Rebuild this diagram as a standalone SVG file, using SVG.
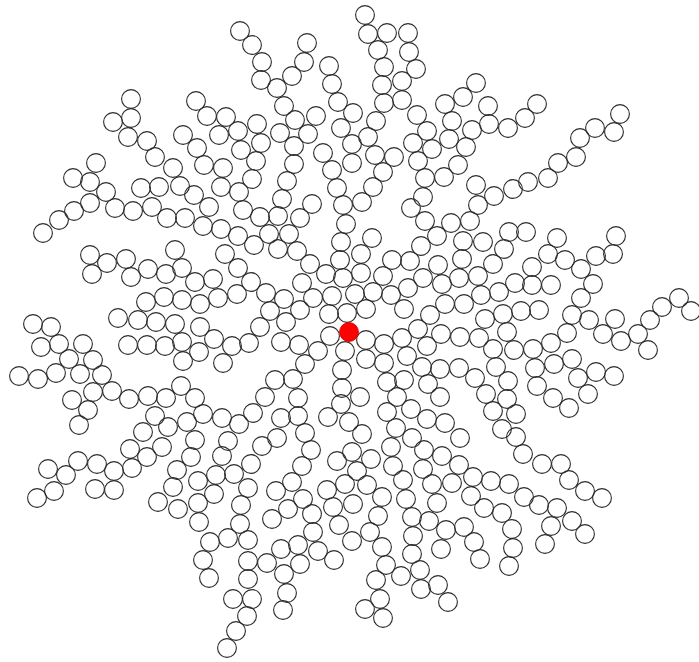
<svg xmlns="http://www.w3.org/2000/svg" xmlns:xlink="http://www.w3.org/1999/xlink" width="699" height="662" viewBox="0 0 699 662">
<style>.c{fill:none;stroke:#2a2a2a;stroke-width:1.1}.seed{fill:#ff0000;stroke:#e00000;stroke-width:1}</style>
<defs><circle id="p" class="c" cx="0" cy="0" r="9.4"/></defs>
<rect width="699" height="662" fill="#fff"/>
<g id="particles">
<use href="#p" x="131" y="99"/><use href="#p" x="113" y="122"/><use href="#p" x="131" y="118"/><use href="#p" x="128" y="137"/><use href="#p" x="147" y="141"/><use href="#p" x="155" y="157"/><use href="#p" x="173" y="168"/><use href="#p" x="96" y="163"/><use href="#p" x="73" y="178"/><use href="#p" x="90" y="182"/><use href="#p" x="106" y="192"/><use href="#p" x="90" y="203"/><use href="#p" x="74" y="211"/><use href="#p" x="59" y="220"/><use href="#p" x="141" y="188"/><use href="#p" x="159" y="187"/><use href="#p" x="115" y="208"/><use href="#p" x="133" y="211"/><use href="#p" x="152" y="207"/><use href="#p" x="167" y="218"/>
<use href="#p" x="240" y="31"/><use href="#p" x="252" y="45"/><use href="#p" x="262" y="62"/><use href="#p" x="261" y="80"/><use href="#p" x="277" y="88"/><use href="#p" x="292" y="76"/><use href="#p" x="304" y="62"/><use href="#p" x="307" y="43"/><use href="#p" x="329" y="66"/><use href="#p" x="332" y="84"/><use href="#p" x="338" y="102"/><use href="#p" x="341" y="128"/><use href="#p" x="284" y="106"/><use href="#p" x="295" y="120"/><use href="#p" x="316" y="116"/><use href="#p" x="280" y="133"/><use href="#p" x="308" y="134"/><use href="#p" x="294" y="146"/><use href="#p" x="294" y="164"/><use href="#p" x="287" y="181"/><use href="#p" x="282" y="199"/><use href="#p" x="278" y="216"/><use href="#p" x="312" y="204"/><use href="#p" x="300" y="218"/><use href="#p" x="323" y="153"/><use href="#p" x="332" y="170"/><use href="#p" x="337" y="188"/><use href="#p" x="343" y="205"/><use href="#p" x="196" y="101"/><use href="#p" x="207" y="116"/><use href="#p" x="226" y="117"/><use href="#p" x="219" y="135"/><use href="#p" x="238" y="131"/><use href="#p" x="257" y="124"/><use href="#p" x="261" y="143"/><use href="#p" x="241" y="150"/><use href="#p" x="256" y="161"/><use href="#p" x="252" y="179"/><use href="#p" x="239" y="192"/><use href="#p" x="243" y="210"/><use href="#p" x="260" y="217"/><use href="#p" x="183" y="135"/><use href="#p" x="197" y="148"/><use href="#p" x="204" y="165"/><use href="#p" x="223" y="168"/><use href="#p" x="221" y="187"/><use href="#p" x="180" y="186"/><use href="#p" x="194" y="195"/><use href="#p" x="209" y="207"/><use href="#p" x="185" y="218"/><use href="#p" x="221" y="229"/>
<use href="#p" x="365" y="15"/><use href="#p" x="368" y="34"/><use href="#p" x="387" y="33"/><use href="#p" x="408" y="33"/><use href="#p" x="378" y="50"/><use href="#p" x="409" y="52"/><use href="#p" x="384" y="67"/><use href="#p" x="416" y="69"/><use href="#p" x="382" y="85"/><use href="#p" x="402" y="81"/><use href="#p" x="384" y="103"/><use href="#p" x="402" y="100"/><use href="#p" x="376" y="121"/><use href="#p" x="368" y="137"/><use href="#p" x="353" y="113"/><use href="#p" x="352" y="144"/><use href="#p" x="352" y="163"/><use href="#p" x="375" y="155"/><use href="#p" x="394" y="157"/><use href="#p" x="383" y="172"/><use href="#p" x="373" y="187"/><use href="#p" x="362" y="202"/><use href="#p" x="417" y="115"/><use href="#p" x="427" y="131"/><use href="#p" x="413" y="143"/><use href="#p" x="432" y="149"/><use href="#p" x="418" y="161"/><use href="#p" x="425" y="178"/><use href="#p" x="423" y="197"/><use href="#p" x="411" y="208"/><use href="#p" x="425" y="221"/><use href="#p" x="444" y="177"/><use href="#p" x="458" y="165"/><use href="#p" x="466" y="147"/><use href="#p" x="449" y="139"/><use href="#p" x="452" y="121"/><use href="#p" x="445" y="104"/><use href="#p" x="463" y="97"/><use href="#p" x="476" y="83"/><use href="#p" x="472" y="130"/><use href="#p" x="489" y="124"/><use href="#p" x="488" y="106"/><use href="#p" x="508" y="128"/><use href="#p" x="525" y="118"/><use href="#p" x="476" y="185"/><use href="#p" x="494" y="196"/><use href="#p" x="478" y="205"/><use href="#p" x="513" y="189"/><use href="#p" x="528" y="182"/><use href="#p" x="451" y="223"/><use href="#p" x="470" y="221"/>
<use href="#p" x="537" y="104"/><use href="#p" x="620" y="114"/><use href="#p" x="614" y="132"/><use href="#p" x="595" y="128"/><use href="#p" x="580" y="138"/><use href="#p" x="576" y="157"/><use href="#p" x="558" y="163"/><use href="#p" x="548" y="178"/>
<use href="#p" x="43" y="233"/><use href="#p" x="90" y="255"/><use href="#p" x="107" y="263"/><use href="#p" x="126" y="259"/><use href="#p" x="92" y="274"/><use href="#p" x="131" y="277"/><use href="#p" x="148" y="269"/><use href="#p" x="166" y="274"/><use href="#p" x="175" y="250"/><use href="#p" x="146" y="302"/><use href="#p" x="164" y="297"/><use href="#p" x="118" y="318"/><use href="#p" x="138" y="320"/><use href="#p" x="156" y="322"/><use href="#p" x="175" y="324"/><use href="#p" x="128" y="345"/><use href="#p" x="147" y="345"/><use href="#p" x="165" y="346"/><use href="#p" x="33" y="324"/><use href="#p" x="51" y="327"/><use href="#p" x="41" y="347"/><use href="#p" x="59" y="344"/><use href="#p" x="83" y="344"/><use href="#p" x="69" y="359"/><use href="#p" x="93" y="360"/><use href="#p" x="19" y="376"/><use href="#p" x="38" y="379"/><use href="#p" x="56" y="373"/><use href="#p" x="80" y="374"/><use href="#p" x="102" y="375"/><use href="#p" x="93" y="392"/><use href="#p" x="112" y="391"/><use href="#p" x="129" y="399"/><use href="#p" x="148" y="396"/><use href="#p" x="166" y="398"/><use href="#p" x="72" y="400"/><use href="#p" x="88" y="410"/><use href="#p" x="79" y="425"/><use href="#p" x="155" y="416"/><use href="#p" x="143" y="432"/><use href="#p" x="168" y="427"/>
<use href="#p" x="203" y="226"/><use href="#p" x="238" y="236"/><use href="#p" x="254" y="245"/><use href="#p" x="269" y="234"/><use href="#p" x="289" y="234"/><use href="#p" x="278" y="249"/><use href="#p" x="297" y="251"/><use href="#p" x="310" y="264"/><use href="#p" x="326" y="274"/><use href="#p" x="340" y="260"/><use href="#p" x="341" y="242"/><use href="#p" x="346" y="224"/><use href="#p" x="225" y="254"/><use href="#p" x="238" y="268"/><use href="#p" x="251" y="282"/><use href="#p" x="266" y="293"/><use href="#p" x="284" y="299"/><use href="#p" x="302" y="283"/><use href="#p" x="313" y="298"/><use href="#p" x="332" y="296"/><use href="#p" x="343" y="278"/><use href="#p" x="300" y="310"/><use href="#p" x="270" y="311"/><use href="#p" x="286" y="322"/><use href="#p" x="260" y="327"/><use href="#p" x="329" y="314"/><use href="#p" x="330" y="336"/><use href="#p" x="182" y="268"/><use href="#p" x="195" y="282"/><use href="#p" x="213" y="279"/><use href="#p" x="237" y="294"/><use href="#p" x="182" y="300"/><use href="#p" x="200" y="304"/><use href="#p" x="218" y="298"/><use href="#p" x="200" y="327"/><use href="#p" x="214" y="339"/><use href="#p" x="232" y="346"/><use href="#p" x="249" y="343"/><use href="#p" x="182" y="342"/><use href="#p" x="199" y="352"/><use href="#p" x="183" y="361"/><use href="#p" x="223" y="363"/><use href="#p" x="281" y="342"/><use href="#p" x="299" y="345"/><use href="#p" x="318" y="351"/><use href="#p" x="305" y="364"/><use href="#p" x="293" y="379"/><use href="#p" x="275" y="380"/><use href="#p" x="265" y="397"/><use href="#p" x="253" y="413"/><use href="#p" x="239" y="424"/><use href="#p" x="222" y="418"/><use href="#p" x="203" y="414"/><use href="#p" x="187" y="422"/><use href="#p" x="195" y="398"/><use href="#p" x="181" y="386"/><use href="#p" x="195" y="440"/><use href="#p" x="228" y="441"/><use href="#p" x="281" y="418"/><use href="#p" x="298" y="398"/><use href="#p" x="277" y="438"/><use href="#p" x="305" y="433"/><use href="#p" x="298" y="416"/><use href="#p" x="328" y="417"/><use href="#p" x="341" y="404"/><use href="#p" x="342" y="388"/><use href="#p" x="342" y="370"/><use href="#p" x="345" y="351"/><use href="#p" x="349" y="422"/>
<use href="#p" x="372" y="238"/><use href="#p" x="361" y="254"/><use href="#p" x="361" y="273"/><use href="#p" x="355" y="294"/><use href="#p" x="366" y="309"/><use href="#p" x="347" y="313"/><use href="#p" x="392" y="260"/><use href="#p" x="410" y="261"/><use href="#p" x="383" y="276"/><use href="#p" x="373" y="292"/><use href="#p" x="391" y="295"/><use href="#p" x="408" y="288"/><use href="#p" x="404" y="309"/><use href="#p" x="423" y="278"/><use href="#p" x="421" y="246"/><use href="#p" x="437" y="236"/><use href="#p" x="463" y="241"/><use href="#p" x="483" y="242"/><use href="#p" x="438" y="265"/><use href="#p" x="442" y="284"/><use href="#p" x="462" y="259"/><use href="#p" x="459" y="278"/><use href="#p" x="478" y="276"/><use href="#p" x="493" y="264"/><use href="#p" x="504" y="249"/><use href="#p" x="509" y="232"/><use href="#p" x="526" y="232"/><use href="#p" x="481" y="295"/><use href="#p" x="499" y="292"/><use href="#p" x="515" y="283"/><use href="#p" x="445" y="304"/><use href="#p" x="464" y="304"/><use href="#p" x="430" y="315"/><use href="#p" x="418" y="329"/><use href="#p" x="485" y="319"/><use href="#p" x="503" y="314"/><use href="#p" x="521" y="311"/><use href="#p" x="507" y="332"/><use href="#p" x="514" y="350"/><use href="#p" x="441" y="334"/><use href="#p" x="460" y="337"/><use href="#p" x="479" y="338"/><use href="#p" x="493" y="349"/><use href="#p" x="366" y="340"/><use href="#p" x="384" y="344"/><use href="#p" x="402" y="338"/><use href="#p" x="427" y="346"/><use href="#p" x="366" y="359"/><use href="#p" x="384" y="363"/><use href="#p" x="407" y="356"/><use href="#p" x="422" y="367"/><use href="#p" x="440" y="369"/><use href="#p" x="459" y="368"/><use href="#p" x="496" y="367"/><use href="#p" x="475" y="378"/><use href="#p" x="508" y="381"/><use href="#p" x="387" y="382"/><use href="#p" x="404" y="380"/><use href="#p" x="428" y="384"/><use href="#p" x="360" y="397"/><use href="#p" x="397" y="397"/><use href="#p" x="440" y="397"/><use href="#p" x="486" y="394"/><use href="#p" x="507" y="399"/><use href="#p" x="387" y="412"/><use href="#p" x="411" y="409"/><use href="#p" x="427" y="419"/><use href="#p" x="445" y="423"/><use href="#p" x="396" y="428"/><use href="#p" x="493" y="411"/><use href="#p" x="516" y="414"/><use href="#p" x="502" y="429"/><use href="#p" x="362" y="434"/><use href="#p" x="412" y="438"/><use href="#p" x="460" y="438"/><use href="#p" x="516" y="437"/>
<use href="#p" x="557" y="238"/><use href="#p" x="548" y="254"/><use href="#p" x="565" y="260"/><use href="#p" x="581" y="269"/><use href="#p" x="593" y="284"/><use href="#p" x="581" y="298"/><use href="#p" x="596" y="256"/><use href="#p" x="613" y="254"/><use href="#p" x="616" y="236"/><use href="#p" x="532" y="267"/><use href="#p" x="532" y="285"/><use href="#p" x="551" y="285"/><use href="#p" x="539" y="310"/><use href="#p" x="572" y="315"/><use href="#p" x="589" y="320"/><use href="#p" x="615" y="319"/><use href="#p" x="603" y="334"/><use href="#p" x="621" y="341"/><use href="#p" x="638" y="334"/><use href="#p" x="648" y="350"/><use href="#p" x="650" y="320"/><use href="#p" x="662" y="307"/><use href="#p" x="679" y="298"/><use href="#p" x="691" y="311"/><use href="#p" x="567" y="333"/><use href="#p" x="551" y="343"/><use href="#p" x="533" y="349"/><use href="#p" x="535" y="368"/><use href="#p" x="554" y="364"/><use href="#p" x="572" y="359"/><use href="#p" x="578" y="378"/><use href="#p" x="596" y="372"/><use href="#p" x="614" y="376"/><use href="#p" x="588" y="394"/><use href="#p" x="537" y="386"/><use href="#p" x="553" y="398"/><use href="#p" x="569" y="408"/>
<use href="#p" x="130" y="449"/><use href="#p" x="162" y="447"/><use href="#p" x="147" y="457"/><use href="#p" x="132" y="468"/><use href="#p" x="114" y="471"/><use href="#p" x="97" y="464"/><use href="#p" x="78" y="461"/><use href="#p" x="48" y="469"/><use href="#p" x="66" y="475"/><use href="#p" x="54" y="491"/><use href="#p" x="37" y="498"/><use href="#p" x="95" y="489"/><use href="#p" x="114" y="490"/><use href="#p" x="177" y="470"/><use href="#p" x="173" y="487"/><use href="#p" x="158" y="502"/><use href="#p" x="178" y="509"/>
<use href="#p" x="191" y="457"/><use href="#p" x="198" y="481"/><use href="#p" x="198" y="503"/><use href="#p" x="199" y="522"/><use href="#p" x="222" y="456"/><use href="#p" x="216" y="475"/><use href="#p" x="234" y="474"/><use href="#p" x="214" y="494"/><use href="#p" x="251" y="464"/><use href="#p" x="262" y="446"/><use href="#p" x="248" y="488"/><use href="#p" x="241" y="505"/><use href="#p" x="240" y="524"/><use href="#p" x="228" y="538"/><use href="#p" x="248" y="540"/><use href="#p" x="210" y="542"/><use href="#p" x="203" y="560"/><use href="#p" x="209" y="578"/><use href="#p" x="248" y="561"/><use href="#p" x="267" y="563"/><use href="#p" x="248" y="579"/><use href="#p" x="233" y="599"/><use href="#p" x="252" y="599"/><use href="#p" x="247" y="616"/><use href="#p" x="236" y="631"/><use href="#p" x="227" y="648"/><use href="#p" x="311" y="450"/><use href="#p" x="302" y="466"/><use href="#p" x="292" y="482"/><use href="#p" x="276" y="491"/><use href="#p" x="303" y="499"/><use href="#p" x="288" y="509"/><use href="#p" x="272" y="519"/><use href="#p" x="312" y="514"/><use href="#p" x="313" y="532"/><use href="#p" x="298" y="545"/><use href="#p" x="281" y="549"/><use href="#p" x="318" y="551"/><use href="#p" x="300" y="564"/><use href="#p" x="334" y="560"/><use href="#p" x="284" y="574"/><use href="#p" x="287" y="593"/><use href="#p" x="283" y="610"/><use href="#p" x="337" y="461"/><use href="#p" x="352" y="452"/><use href="#p" x="327" y="490"/><use href="#p" x="345" y="484"/><use href="#p" x="333" y="507"/><use href="#p" x="339" y="525"/><use href="#p" x="352" y="541"/>
<use href="#p" x="371" y="459"/><use href="#p" x="357" y="471"/><use href="#p" x="391" y="447"/><use href="#p" x="393" y="466"/><use href="#p" x="424" y="450"/><use href="#p" x="423" y="469"/><use href="#p" x="442" y="456"/><use href="#p" x="459" y="465"/><use href="#p" x="523" y="454"/><use href="#p" x="367" y="485"/><use href="#p" x="382" y="497"/><use href="#p" x="353" y="504"/><use href="#p" x="403" y="480"/><use href="#p" x="406" y="499"/><use href="#p" x="432" y="484"/><use href="#p" x="437" y="503"/><use href="#p" x="452" y="483"/><use href="#p" x="473" y="477"/><use href="#p" x="491" y="481"/><use href="#p" x="509" y="484"/><use href="#p" x="471" y="496"/><use href="#p" x="484" y="508"/><use href="#p" x="502" y="513"/><use href="#p" x="524" y="497"/><use href="#p" x="512" y="529"/><use href="#p" x="513" y="548"/><use href="#p" x="509" y="566"/><use href="#p" x="412" y="517"/><use href="#p" x="429" y="521"/><use href="#p" x="446" y="530"/><use href="#p" x="464" y="527"/><use href="#p" x="474" y="542"/><use href="#p" x="480" y="559"/><use href="#p" x="441" y="549"/><use href="#p" x="378" y="516"/><use href="#p" x="370" y="532"/><use href="#p" x="382" y="547"/><use href="#p" x="413" y="536"/><use href="#p" x="412" y="554"/><use href="#p" x="386" y="565"/><use href="#p" x="401" y="576"/><use href="#p" x="376" y="580"/><use href="#p" x="420" y="570"/><use href="#p" x="421" y="589"/><use href="#p" x="438" y="585"/><use href="#p" x="448" y="602"/><use href="#p" x="380" y="599"/><use href="#p" x="365" y="609"/><use href="#p" x="383" y="618"/>
<use href="#p" x="542" y="464"/><use href="#p" x="561" y="464"/><use href="#p" x="569" y="480"/><use href="#p" x="585" y="491"/><use href="#p" x="602" y="498"/><use href="#p" x="539" y="505"/><use href="#p" x="557" y="508"/><use href="#p" x="572" y="521"/><use href="#p" x="585" y="534"/><use href="#p" x="551" y="526"/><use href="#p" x="545" y="544"/>
</g>
<circle id="seed" class="seed" cx="349" cy="332" r="9.4"/>
</svg>
